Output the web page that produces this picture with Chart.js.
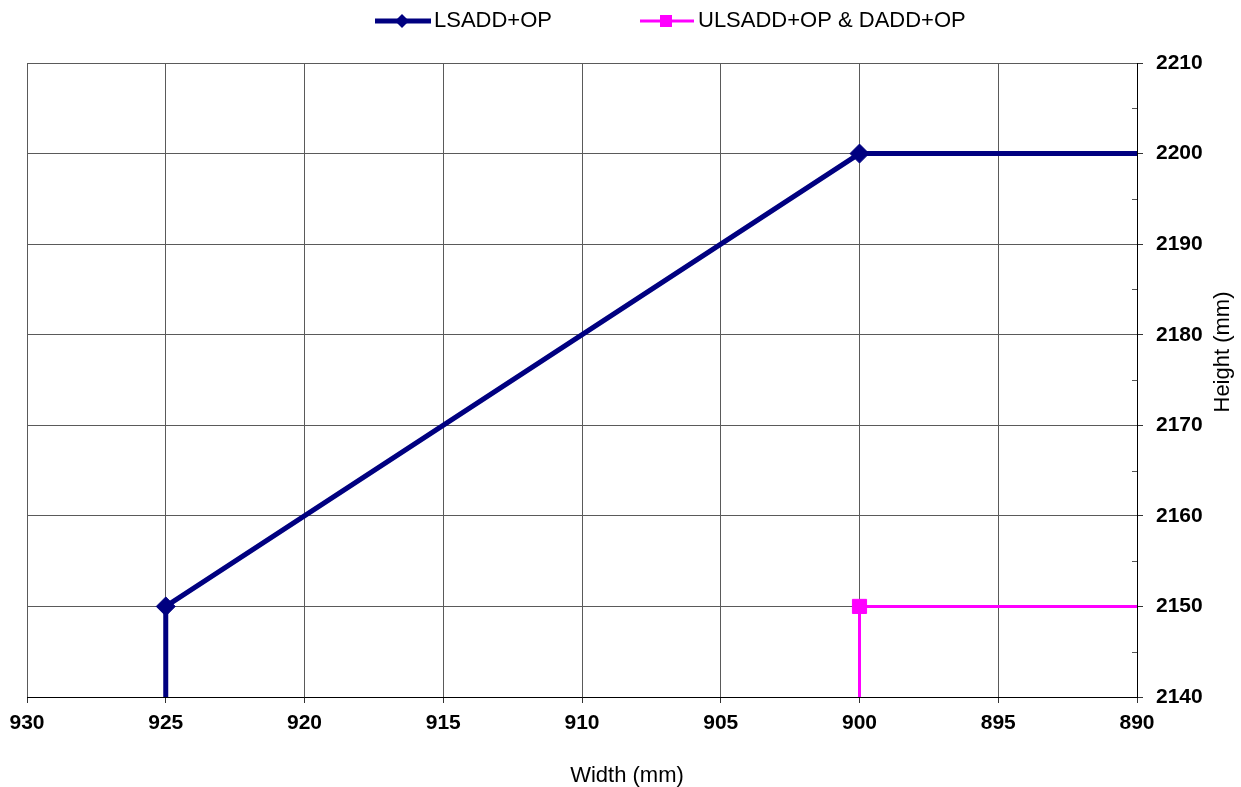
<!DOCTYPE html>
<html>
<head>
<meta charset="utf-8">
<script src="https://cdn.jsdelivr.net/npm/chart.js@4/dist/chart.umd.min.js"></script>
<style>
    html, body { margin: 0; padding: 0; background: #fff; }
    #wrap { width: 1241px; height: 787px; position: relative; }
</style>
</head>
<body>
<div id="wrap"><canvas id="doorChart"></canvas></div>
<script>
const seriesNames = ['LSADD+OP', 'ULSADD+OP & DADD+OP'];
const lsaddWidth = [925, 925, 900, 890];
const lsaddHeight = [2140, 2150, 2200, 2200];
const ulsaddWidth = [900, 900, 890];
const ulsaddHeight = [2140, 2150, 2150];
const widthTicks = [930, 925, 920, 915, 910, 905, 900, 895, 890];
const heightTicks = [2140, 2150, 2160, 2170, 2180, 2190, 2200, 2210];
const xTitle = 'Width (mm)';
const yTitle = 'Height (mm)';

const NAVY = '#000080';
const MAGENTA = '#ff00ff';
const FONT = "'Liberation Sans', Arial, sans-serif";

function toPoints(xs, ys) {
    return xs.map((x, i) => ({ x: x, y: ys[i] }));
}

// markers only on the inner corner points
function markerSizes(xs, r) {
    return xs.map((x, i) => (i === 0 || i === xs.length - 1) ? 0 : r);
}

const extrasPlugin = {
    id: 'extras',
    afterDraw(chart) {
        const ctx = chart.ctx;
        const yScale = chart.scales.y;
        const area = chart.chartArea;

        // minor ticks on the height axis, pointing inward
        ctx.save();
        ctx.strokeStyle = '#555';
        ctx.lineWidth = 1;
        for (let i = 0; i < heightTicks.length - 1; i++) {
            const py = Math.round(yScale.getPixelForValue((heightTicks[i] + heightTicks[i + 1]) / 2)) + 0.5;
            ctx.beginPath();
            ctx.moveTo(area.right - 5, py);
            ctx.lineTo(area.right, py);
            ctx.stroke();
        }
        ctx.restore();

        // axis titles
        ctx.save();
        ctx.fillStyle = '#000';
        ctx.font = '22px ' + FONT;
        ctx.textAlign = 'center';
        ctx.textBaseline = 'middle';
        ctx.fillText(xTitle, 627, 776);
        ctx.translate(1223, 352);
        ctx.rotate(-Math.PI / 2);
        ctx.fillText(yTitle, 0, 0);
        ctx.restore();

        // legend
        const legendY = 21;
        ctx.save();
        ctx.lineCap = 'butt';
        ctx.strokeStyle = NAVY;
        ctx.lineWidth = 5;
        ctx.beginPath();
        ctx.moveTo(375, legendY);
        ctx.lineTo(431, legendY);
        ctx.stroke();
        ctx.fillStyle = NAVY;
        ctx.beginPath();
        ctx.moveTo(402 - 7, legendY);
        ctx.lineTo(402, legendY - 7);
        ctx.lineTo(402 + 7, legendY);
        ctx.lineTo(402, legendY + 7);
        ctx.closePath();
        ctx.fill();

        ctx.strokeStyle = MAGENTA;
        ctx.lineWidth = 3;
        ctx.beginPath();
        ctx.moveTo(640, legendY);
        ctx.lineTo(694, legendY);
        ctx.stroke();
        ctx.fillStyle = MAGENTA;
        ctx.fillRect(666 - 6, legendY - 6, 12, 12);

        ctx.fillStyle = '#000';
        ctx.font = '22px ' + FONT;
        ctx.textAlign = 'left';
        ctx.textBaseline = 'middle';
        ctx.fillText(seriesNames[0], 434, legendY);
        ctx.fillText(seriesNames[1], 698, legendY);
        ctx.restore();
    }
};

function renderChart() {
    const canvas = document.getElementById('doorChart');
    const ctx = canvas.getContext('2d');

    new Chart(ctx, {
        type: 'scatter',
        data: {
            datasets: [
                {
                    label: seriesNames[0],
                    data: toPoints(lsaddWidth, lsaddHeight),
                    showLine: true,
                    borderColor: NAVY,
                    backgroundColor: NAVY,
                    borderWidth: 5,
                    pointStyle: 'rectRot',
                    pointRadius: markerSizes(lsaddWidth, 9.5),
                    pointBorderWidth: 1,
                    pointBorderColor: NAVY,
                    pointBackgroundColor: NAVY
                },
                {
                    label: seriesNames[1],
                    data: toPoints(ulsaddWidth, ulsaddHeight),
                    showLine: true,
                    borderColor: MAGENTA,
                    backgroundColor: MAGENTA,
                    borderWidth: 3,
                    pointStyle: 'rect',
                    pointRadius: [0, 10, 0],
                    pointBorderWidth: 1,
                    pointBorderColor: MAGENTA,
                    pointBackgroundColor: MAGENTA
                }
            ]
        },
        options: {
            responsive: false,
            animation: false,
            events: [],
            layout: {
                padding: { left: 27, top: 63, right: 0, bottom: 0 }
            },
            plugins: {
                legend: { display: false },
                tooltip: { enabled: false }
            },
            scales: {
                x: {
                    type: 'linear',
                    position: 'bottom',
                    reverse: true,
                    min: widthTicks[widthTicks.length - 1],
                    max: widthTicks[0],
                    afterBuildTicks: (scale) => { scale.ticks = widthTicks.map(v => ({ value: v })); },
                    afterFit: (scale) => { scale.height = 90; },
                    grid: {
                        color: '#5a5a5a',
                        lineWidth: 1,
                        tickLength: 6,
                        tickColor: '#333'
                    },
                    border: { color: '#000', width: 1 },
                    ticks: {
                        color: '#000',
                        padding: 8,
                        callback: (value) => String(value),
                        font: { family: FONT, size: 21, weight: 'bold' }
                    }
                },
                y: {
                    type: 'linear',
                    position: 'right',
                    min: heightTicks[0],
                    max: heightTicks[heightTicks.length - 1],
                    afterBuildTicks: (scale) => { scale.ticks = heightTicks.map(v => ({ value: v })); },
                    afterFit: (scale) => { scale.width = 104; },
                    grid: {
                        color: '#5a5a5a',
                        lineWidth: 1,
                        tickLength: 6,
                        tickColor: '#333'
                    },
                    border: { color: '#000', width: 1 },
                    ticks: {
                        color: '#000',
                        padding: 13,
                        callback: (value) => String(value),
                        font: { family: FONT, size: 21, weight: 'bold' }
                    }
                }
            }
        },
        plugins: [extrasPlugin]
    });
}

document.getElementById('doorChart').width = 1241;
document.getElementById('doorChart').height = 787;
renderChart();
</script>
</body>
</html>
